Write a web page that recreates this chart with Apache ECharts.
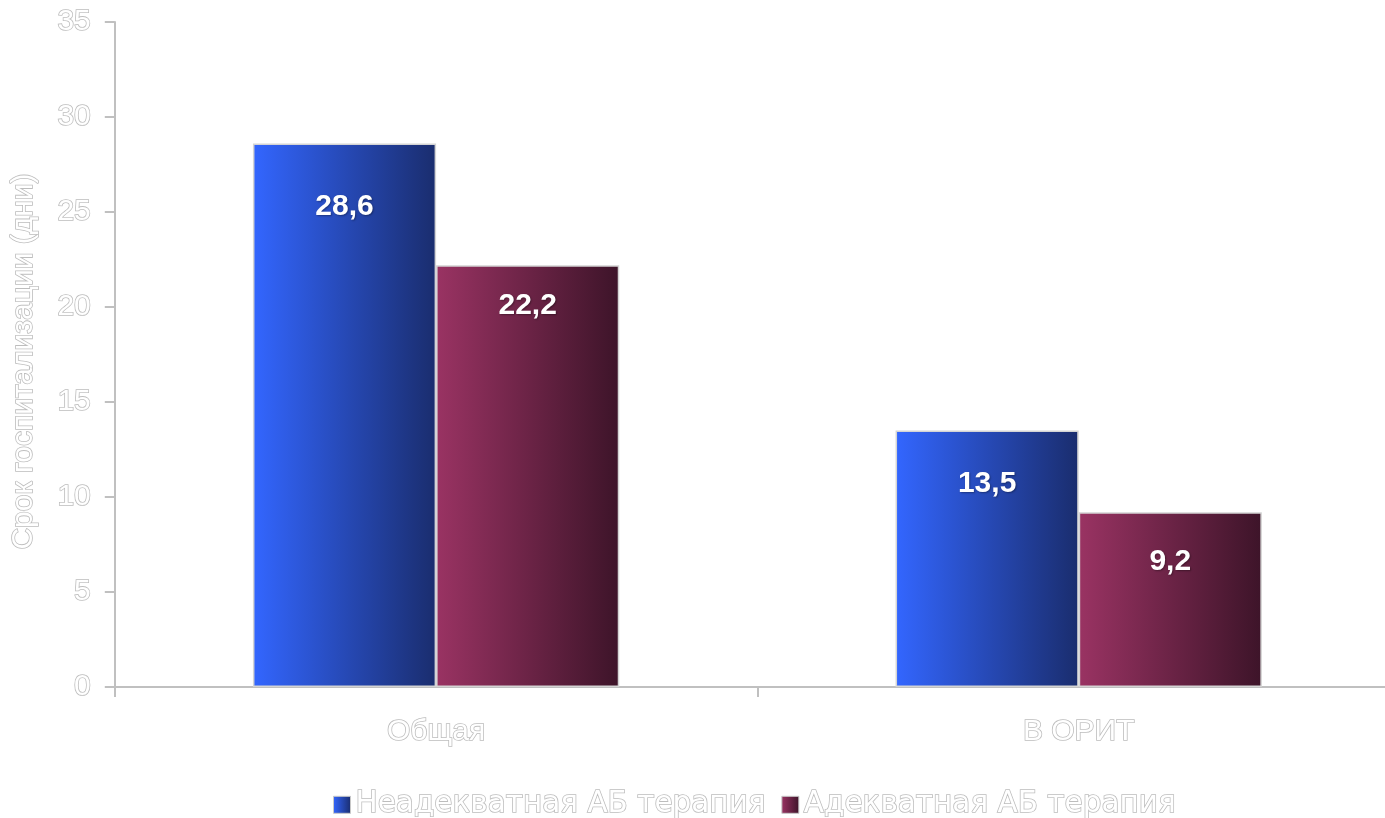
<!DOCTYPE html>
<html>
<head>
<meta charset="utf-8">
<script src="https://cdn.jsdelivr.net/npm/echarts@6/dist/echarts.min.js"></script>
<style>
  html, body { margin: 0; padding: 0; background: #ffffff; overflow: hidden; }
  #chart { width: 1400px; height: 818px; }
</style>
</head>
<body>
<div id="chart"></div>
<script>
// Length of hospital stay (days) by antibiotic therapy adequacy
const categories = ['Общая', 'В ОРИТ'];
const seriesNames = ['Неадекватная АБ терапия', 'Адекватная АБ терапия'];
const inadequate = [28.6, 13.5];
const adequate = [22.2, 9.2];
const yTicks = [0, 5, 10, 15, 20, 25, 30, 35];

const FONT = '"Liberation Sans", Arial, sans-serif';
const WIDE_FONT = '"DejaVu Sans", "Liberation Sans", sans-serif';
const outlined = {
  color: '#ffffff',
  textBorderColor: '#bdbdbd',
  textBorderWidth: 1.6,
  fontFamily: FONT
};

function grad(c0, c1) {
  return new echarts.graphic.LinearGradient(0, 0, 1, 0, [
    { offset: 0, color: c0 },
    { offset: 1, color: c1 }
  ]);
}

const blue = grad('#3366ff', '#1a2d6e');
const maroon = grad('#9a3363', '#3d1429');

// label distances below each bar's top edge
const labelDist = [[48, 38], [26, 35]];

function items(values, s) {
  return values.map((v, i) => ({
    value: v,
    label: { distance: labelDist[s][i] }
  }));
}

const chart = echarts.init(document.getElementById('chart'), null, { renderer: 'canvas' });

const barLabel = {
  show: true,
  position: 'insideTop',
  color: '#ffffff',
  fontSize: 30,
  fontWeight: 'bold',
  fontFamily: FONT,
  textShadowColor: 'rgba(0,0,0,0.35)',
  textShadowBlur: 2,
  textShadowOffsetX: 1,
  textShadowOffsetY: 1,
  formatter: p => String(p.value).replace('.', ',')
};

chart.setOption({
  animation: false,
  backgroundColor: '#ffffff',
  grid: { left: 114, top: 22, right: 0, bottom: 131, containLabel: false },
  legend: {
    top: 784,
    left: 328,
    itemWidth: 17,
    itemHeight: 17,
    itemGap: 15,
    icon: 'rect',
    textStyle: Object.assign({}, outlined, { fontSize: 29.5, fontFamily: WIDE_FONT }),
    data: [
      { name: seriesNames[0], itemStyle: { color: blue, borderColor: '#c8c8c8', borderWidth: 1 } },
      { name: seriesNames[1], itemStyle: { color: maroon, borderColor: '#c8c8c8', borderWidth: 1 } }
    ]
  },
  xAxis: {
    type: 'category',
    data: categories,
    axisLine: { lineStyle: { color: '#c0c0c0', width: 2 } },
    axisTick: { show: true, length: 10, lineStyle: { color: '#c0c0c0', width: 2 } },
    axisLabel: Object.assign({ fontSize: 30, margin: 30 }, outlined)
  },
  yAxis: {
    type: 'value',
    min: yTicks[0],
    max: yTicks[yTicks.length - 1],
    interval: yTicks[1] - yTicks[0],
    name: 'Срок госпитализации (дни)',
    nameLocation: 'middle',
    nameGap: 76,
    nameRotate: 90,
    nameTextStyle: Object.assign({ fontSize: 30, padding: [0, 14, 0, 0] }, outlined),
    axisLine: { show: true, lineStyle: { color: '#c0c0c0', width: 2 } },
    axisTick: { show: true, length: 10, lineStyle: { color: '#c0c0c0', width: 2 } },
    splitLine: { show: false },
    axisLabel: Object.assign({ fontSize: 30, margin: 24 }, outlined)
  },
  series: [
    {
      name: seriesNames[0],
      type: 'bar',
      data: items(inadequate, 0),
      barGap: '0%',
      barCategoryGap: '43%',
      itemStyle: { color: blue, borderColor: '#d4d4d4', borderWidth: 1.5 },
      label: barLabel
    },
    {
      name: seriesNames[1],
      type: 'bar',
      data: items(adequate, 1),
      itemStyle: { color: maroon, borderColor: '#d4d4d4', borderWidth: 1.5 },
      label: barLabel
    }
  ]
});
</script>
</body>
</html>
